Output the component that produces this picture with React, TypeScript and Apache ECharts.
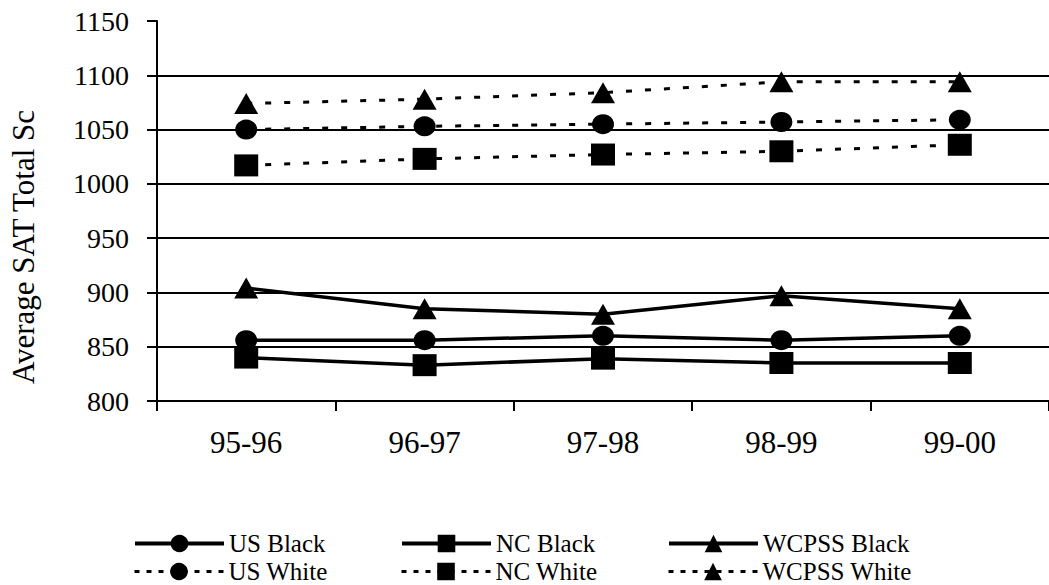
import React, { useEffect, useRef } from "react";
import * as echarts from "echarts";

const categories = ["95-96", "96-97", "97-98", "98-99", "99-00"];
const usBlack = [856, 856, 860, 856, 860];
const ncBlack = [840, 833, 839, 835, 835];
const wcpssBlack = [904, 885, 880, 897, 885];
const usWhite = [1050, 1053, 1055, 1057, 1059];
const ncWhite = [1017, 1023, 1027, 1030, 1036];
const wcpssWhite = [1074, 1078, 1084, 1094, 1094];
const yTicks = { min: 800, max: 1150, interval: 50 };
const yTitle = "Average SAT Total Sc";

const FONT = '"Liberation Serif", "Times New Roman", serif';

export default function App() {
  const ref = useRef<HTMLDivElement>(null);
  useEffect(() => {
    if (!ref.current) return;
    const chart = echarts.init(ref.current, null, { renderer: "svg" });
    const solid = { color: "#000", width: 3.5, type: "solid" as const };
    const dashed = { color: "#000", width: 3, type: [6, 13] as any };
    const mk = (name: string, data: number[], symbol: string, size: number[], line: any) => ({
      name,
      type: "line",
      data,
      symbol,
      symbolSize: size,
      showSymbol: true,
      itemStyle: { color: "#000" },
      lineStyle: line,
      emphasis: { disabled: true },
    });
    const circ = [22, 20];
    const sq = [24, 22];
    const tri = [24, 21];
    const lg = (name: string, left: number, top: number, dashedIcon: boolean) => ({
      orient: "horizontal",
      left,
      top,
      padding: 0,
      itemWidth: 89,
      itemHeight: 22,
      selectedMode: false,
      data: [name],
      lineStyle: dashedIcon
        ? { width: 3, type: [5, 7], color: "#000" }
        : { width: 4, type: "solid", color: "#000" },
      textStyle: { fontFamily: FONT, fontSize: 25, lineHeight: 24, color: "#000" },
    });
    chart.setOption({
      animation: false,
      backgroundColor: "#fff",
      grid: { left: 157, top: 21, width: 897.5, height: 380 },
      xAxis: {
        type: "category",
        data: categories,
        boundaryGap: true,
        axisLine: { lineStyle: { color: "#000", width: 2 } },
        axisTick: { show: true, length: 10, interval: 0, lineStyle: { color: "#000", width: 2 } },
        axisLabel: { fontFamily: FONT, fontSize: 31, color: "#000", margin: 26, interval: 0 },
        splitLine: { show: false },
      },
      yAxis: {
        type: "value",
        min: yTicks.min,
        max: yTicks.max,
        interval: yTicks.interval,
        axisLine: { show: true, lineStyle: { color: "#000", width: 2 } },
        axisTick: { show: true, length: 10, lineStyle: { color: "#000", width: 2 } },
        axisLabel: {
          fontFamily: FONT,
          fontSize: 28,
          color: "#000",
          margin: 28,
          formatter: (v: number) => String(v),
        },
        splitLine: { show: true, showMaxLine: false, lineStyle: { color: "#000", width: 2 } },
      },
      legend: [
        lg("US Black", 133, 531, false),
        lg("US White", 133, 559, true),
        lg("NC Black", 400, 531, false),
        lg("NC White", 400, 559, true),
        lg("WCPSS Black", 667, 531, false),
        lg("WCPSS White", 667, 559, true),
      ],
      graphic: [
        {
          type: "text",
          x: 23,
          y: 247,
          rotation: Math.PI / 2,
          style: {
            text: yTitle,
            fontFamily: FONT,
            fontSize: 31,
            fill: "#000",
            align: "center",
            verticalAlign: "middle",
          },
        },
      ],
      series: [
        mk("US Black", usBlack, "circle", circ, solid),
        mk("NC Black", ncBlack, "rect", sq, solid),
        mk("WCPSS Black", wcpssBlack, "triangle", tri, solid),
        mk("US White", usWhite, "circle", circ, dashed),
        mk("NC White", ncWhite, "rect", sq, dashed),
        mk("WCPSS White", wcpssWhite, "triangle", tri, dashed),
      ],
    });
    return () => chart.dispose();
  }, []);
  return (
    <div
      ref={ref}
      style={{ position: "fixed", left: 0, top: 0, width: 1049, height: 585, background: "#fff" }}
    />
  );
}
